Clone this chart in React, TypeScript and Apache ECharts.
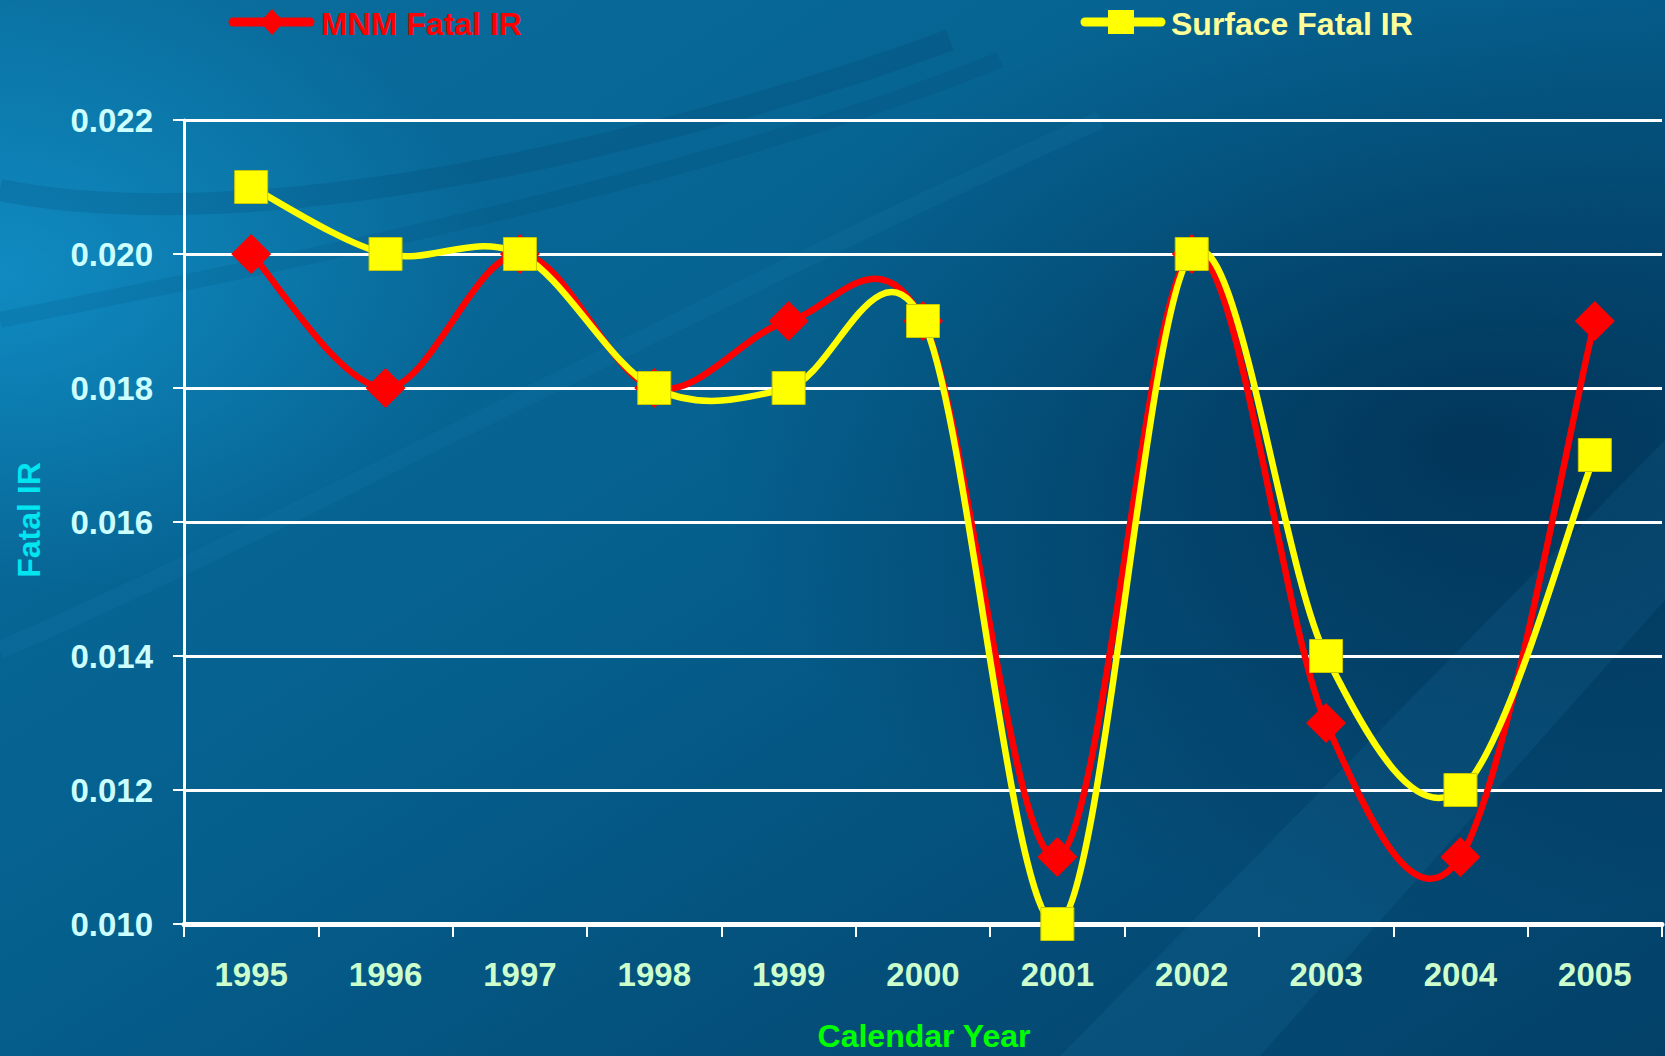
import React, { useEffect, useRef } from "react";
import * as echarts from "echarts";

const years = ["1995", "1996", "1997", "1998", "1999", "2000", "2001", "2002", "2003", "2004", "2005"];
const mnmFatalIR = [0.02, 0.018, 0.02, 0.018, 0.019, 0.019, 0.011, 0.02, 0.013, 0.011, 0.019];
const surfaceFatalIR = [0.021, 0.02, 0.02, 0.018, 0.018, 0.019, 0.01, 0.02, 0.014, 0.012, 0.017];

const FONT = "'Liberation Sans', Arial, sans-serif";
const RED = "#ff0000";
const YELLOW = "#ffff00";

function curveSeries(name: string, values: number[], color: string, z: number) {
  const n = values.length;
  return {
    name,
    type: "custom",
    z,
    silent: true,
    data: values.map((v, i) => [i, v]),
    encode: { x: 0, y: 1 },
    renderItem: (params: any, api: any) => {
      const i = params.dataIndex;
      if (i >= n - 1) return { type: "group", children: [] };
      const pt = (k: number) => {
        const kk = Math.max(0, Math.min(n - 1, k));
        return api.coord([kk, values[kk]]);
      };
      const p0 = pt(i - 1);
      const p1 = pt(i);
      const p2 = pt(i + 1);
      const p3 = pt(i + 2);
      const t = 1 / 6;
      return {
        type: "bezierCurve",
        shape: {
          x1: p1[0],
          y1: p1[1],
          cpx1: p1[0] + (p2[0] - p0[0]) * t,
          cpy1: p1[1] + (p2[1] - p0[1]) * t,
          cpx2: p2[0] - (p3[0] - p1[0]) * t,
          cpy2: p2[1] - (p3[1] - p1[1]) * t,
          x2: p2[0],
          y2: p2[1],
        },
        style: { stroke: color, lineWidth: 6.5, fill: null, lineCap: "round" },
      };
    },
  };
}

export default function App() {
  const ref = useRef<HTMLDivElement>(null);
  useEffect(() => {
    document.body.style.margin = "0";
    if (!ref.current) return;
    const chart = echarts.init(ref.current, undefined, { renderer: "svg" });
    chart.setOption({
      animation: false,
      backgroundColor: {
        type: "linear",
        x: 0,
        y: 0,
        x2: 1,
        y2: 1,
        colorStops: [
          { offset: 0, color: "#0a6f9f" },
          { offset: 0.45, color: "#05608e" },
          { offset: 0.75, color: "#044d78" },
          { offset: 1, color: "#034168" },
        ],
      },
      graphic: [
        {
          type: "rect",
          z: -10,
          silent: true,
          shape: { x: 0, y: 0, width: 1665, height: 1056 },
          style: {
            fill: {
              type: "radial",
              x: 0.0,
              y: 0.26,
              r: 0.3,
              colorStops: [
                { offset: 0, color: "rgba(20,160,220,0.6)" },
                { offset: 1, color: "rgba(20,160,220,0)" },
              ],
            },
          },
        },
        {
          type: "rect",
          z: -10,
          silent: true,
          shape: { x: 0, y: 0, width: 1665, height: 1056 },
          style: {
            fill: {
              type: "radial",
              x: 0.88,
              y: 0.42,
              r: 0.45,
              colorStops: [
                { offset: 0, color: "rgba(0,30,60,0.55)" },
                { offset: 1, color: "rgba(0,30,60,0)" },
              ],
            },
          },
        },
        {
          type: "bezierCurve",
          z: -9,
          silent: true,
          shape: { x1: 0, y1: 190, x2: 950, y2: 40, cpx1: 250, cpy1: 240, cpx2: 650, cpy2: 150 },
          style: { stroke: "rgba(0,50,85,0.14)", lineWidth: 22, fill: null },
        },
        {
          type: "bezierCurve",
          z: -9,
          silent: true,
          shape: { x1: 0, y1: 320, x2: 1000, y2: 60, cpx1: 300, cpy1: 260, cpx2: 700, cpy2: 180 },
          style: { stroke: "rgba(0,50,85,0.1)", lineWidth: 16, fill: null },
        },
        {
          type: "bezierCurve",
          z: -9,
          silent: true,
          shape: { x1: 0, y1: 650, x2: 1100, y2: 120, cpx1: 300, cpy1: 520, cpx2: 700, cpy2: 300 },
          style: { stroke: "rgba(40,150,200,0.1)", lineWidth: 18, fill: null },
        },
        {
          type: "polygon",
          z: -9,
          silent: true,
          shape: { points: [[1060, 1056], [1260, 1056], [1665, 600], [1665, 440]] },
          style: { fill: "rgba(40,140,190,0.12)" },
        },
        {
          type: "text",
          silent: true,
          x: 29,
          y: 520,
          rotation: Math.PI / 2,
          style: {
            text: "Fatal IR",
            fill: "#00e5f0",
            font: `bold 32px ${FONT}`,
            align: "center",
            verticalAlign: "middle",
          },
        },
        {
          type: "text",
          silent: true,
          x: 924,
          y: 1036,
          style: {
            text: "Calendar Year",
            fill: "#00ff00",
            font: `bold 32px ${FONT}`,
            align: "center",
            verticalAlign: "middle",
          },
        },
        // legend icons
        {
          type: "line",
          z: 20,
          silent: true,
          shape: { x1: 233, y1: 22, x2: 310, y2: 22 },
          style: { stroke: RED, lineWidth: 9, lineCap: "round" },
        },
        {
          type: "polygon",
          z: 21,
          silent: true,
          shape: { points: [[272, 9], [284, 22], [272, 35], [260, 22]] },
          style: { fill: RED },
        },
        {
          type: "line",
          z: 20,
          silent: true,
          shape: { x1: 1085, y1: 22, x2: 1161, y2: 22 },
          style: { stroke: YELLOW, lineWidth: 9, lineCap: "round" },
        },
        {
          type: "rect",
          z: 21,
          silent: true,
          shape: { x: 1108, y: 10, width: 26, height: 24 },
          style: { fill: YELLOW },
        },
      ],
      legend: [
        {
          data: [
            {
              name: "MNM Fatal IR",
              icon: "rect",
              itemStyle: { color: "rgba(0,0,0,0)", borderWidth: 0 },
            },
          ],
          left: 226,
          top: 3,
          itemWidth: 85,
          itemHeight: 24,
          textStyle: { color: RED, fontSize: 32, fontWeight: "bold", fontFamily: FONT },
        },
        {
          data: [
            {
              name: "Surface Fatal IR",
              icon: "rect",
              itemStyle: { color: "rgba(0,0,0,0)", borderWidth: 0 },
            },
          ],
          left: 1076,
          top: 3,
          itemWidth: 85,
          itemHeight: 24,
          textStyle: { color: "#ffff99", fontSize: 32, fontWeight: "bold", fontFamily: FONT },
        },
      ],
      grid: { left: 184, right: 3, top: 120, bottom: 132, containLabel: false },
      xAxis: {
        type: "category",
        data: years,
        boundaryGap: true,
        axisLine: { show: true, lineStyle: { color: "#ffffff", width: 5 } },
        axisTick: { show: true, inside: false, length: 13, lineStyle: { color: "#ffffff", width: 2 } },
        axisLabel: { color: "#ccffcc", fontSize: 33, fontWeight: "bold", fontFamily: FONT, margin: 34 },
        splitLine: { show: false },
      },
      yAxis: {
        type: "value",
        min: 0.01,
        max: 0.022,
        interval: 0.002,
        axisLine: { show: true, lineStyle: { color: "#ffffff", width: 3 } },
        axisTick: { show: true, inside: false, length: 11, lineStyle: { color: "#ffffff", width: 2 } },
        axisLabel: {
          color: "#ccffff",
          fontSize: 33,
          fontWeight: "bold",
          fontFamily: FONT,
          margin: 31,
          formatter: (v: number) => v.toFixed(3),
        },
        splitLine: { show: true, lineStyle: { color: "#ffffff", width: 3 } },
      },
      series: [
        curveSeries("MNM curve", mnmFatalIR, RED, 3),
        {
          name: "MNM Fatal IR",
          type: "line",
          data: mnmFatalIR,
          symbol: "diamond",
          symbolSize: 40,
          itemStyle: { color: RED },
          lineStyle: { color: RED, width: 0, opacity: 0 },
          z: 4,
        },
        curveSeries("Surface curve", surfaceFatalIR, YELLOW, 5),
        {
          name: "Surface Fatal IR",
          type: "line",
          data: surfaceFatalIR,
          symbol: "rect",
          symbolSize: 33,
          itemStyle: { color: YELLOW, borderColor: "#c8c800", borderWidth: 1 },
          lineStyle: { color: YELLOW, width: 0, opacity: 0 },
          z: 6,
        },
      ],
    });
    return () => chart.dispose();
  }, []);
  return <div ref={ref} style={{ width: 1665, height: 1056 }} />;
}
